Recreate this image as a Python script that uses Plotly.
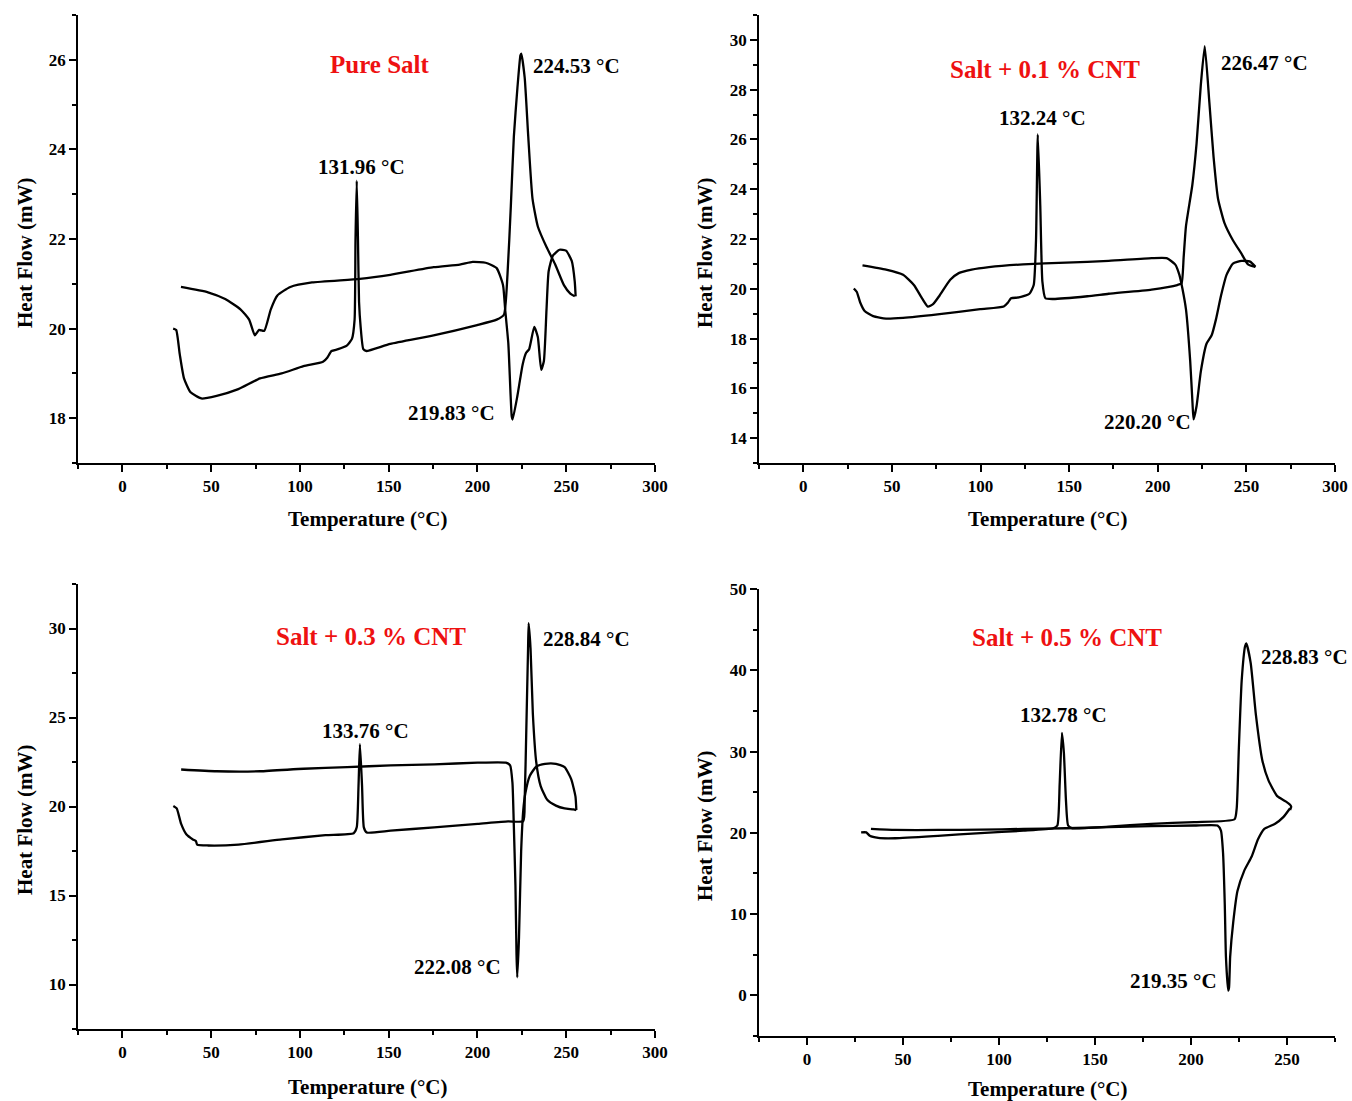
import plotly.graph_objects as go

# ---------------- data (temperature °C, heat flow mW) ----------------
# Panel 1: Pure Salt
pure_heat_t = [28.6, 30.3, 32.3, 34.7, 38.4, 44.5, 53.1, 65.3, 77.5, 89.7, 102, 113, 115.4, 117.8, 121.5, 126.4, 129.3, 130.8, 131.3, 132.0, 132.7, 133.3, 134.2, 135.7, 137.4, 150.9, 175.3, 199.8, 210.8, 214.9, 216.9, 218.8, 220.5, 222.5, 224.2, 224.7, 226.6, 228.6, 231, 234, 238.9, 243.8, 248.7, 252.3, 254.8]
pure_heat_hf = [20.0, 19.97, 19.43, 18.89, 18.58, 18.44, 18.5, 18.65, 18.89, 19.0, 19.16, 19.26, 19.35, 19.5, 19.54, 19.62, 19.77, 20.2, 21.97, 23.3, 21.97, 20.6, 20.04, 19.54, 19.5, 19.66, 19.85, 20.08, 20.2, 20.31, 21.2, 22.74, 24.29, 25.37, 26.1, 26.14, 25.6, 24.29, 22.9, 22.28, 21.82, 21.43, 20.97, 20.78, 20.72]
pure_cool_t = [33.0, 48.2, 57.9, 66.5, 71.4, 74.6, 77.0, 79.9, 83.6, 87.3, 94.6, 106.8, 133.7, 150.9, 175.3, 190, 197.3, 204.6, 210.8, 214.4, 215.6, 217.4, 219.3, 219.8, 222.5, 225.4, 227.4, 229.1, 232.0, 234, 235.9, 237.4, 238.9, 240.1, 242.5, 246.2, 249.9, 253.1, 254.8, 255.3]
pure_cool_hf = [20.93, 20.81, 20.66, 20.43, 20.20, 19.85, 19.97, 19.95, 20.43, 20.74, 20.93, 21.03, 21.11, 21.2, 21.37, 21.43, 21.49, 21.47, 21.35, 20.97, 20.43, 19.66, 18.04, 17.97, 18.5, 19.19, 19.46, 19.54, 20.04, 19.81, 19.08, 19.27, 20.43, 21.28, 21.63, 21.76, 21.74, 21.51, 21.05, 20.72]

# Panel 2: Salt + 0.1 % CNT
c01_heat_t = [28.5, 30.2, 32.1, 34.6, 39.4, 46.7, 56.3, 75.7, 99.8, 113.1, 115.5, 117.2, 121.6, 127.6, 130, 131.3, 132.3, 133.7, 134.9, 136.6, 140.9, 160.3, 172.3, 196.5, 211, 213.4, 214.6, 215.9, 219.5, 221.9, 224.3, 226.5, 229.1, 231.5, 234, 237.6, 242.4, 247.3, 250.9, 255.1]
c01_heat_hf = [20.01, 19.87, 19.45, 19.11, 18.90, 18.8, 18.83, 18.97, 19.18, 19.29, 19.45, 19.62, 19.65, 19.8, 20.15, 21.95, 26.2, 23.34, 20.29, 19.62, 19.59, 19.7, 19.8, 19.97, 20.15, 20.22, 21.26, 22.51, 24.17, 25.84, 28.20, 29.75, 27.50, 25.28, 23.62, 22.65, 21.95, 21.40, 20.98, 20.88]
c01_cool_t = [33.4, 46.7, 56.3, 62.4, 67.2, 70.3, 73.2, 76.9, 82.9, 87.7, 95, 104.7, 124, 148.2, 172.3, 196.5, 205, 209.8, 212.2, 213.9, 215.9, 218.3, 219.6, 220.2, 221.9, 224.3, 227.5, 230.4, 232.8, 235.7, 238.8, 242.4, 247.3, 252.1, 255.1]
c01_cool_hf = [20.94, 20.77, 20.56, 20.15, 19.59, 19.28, 19.38, 19.73, 20.36, 20.63, 20.77, 20.87, 20.98, 21.05, 21.12, 21.23, 21.23, 20.98, 20.56, 20.01, 19.18, 17.09, 15.4, 14.75, 15.29, 16.68, 17.79, 18.13, 18.76, 19.73, 20.56, 21.01, 21.12, 21.09, 20.88]

# Panel 3: Salt + 0.3 % CNT
c03_heat_t = [28.7, 30.6, 33.1, 36, 39.7, 41.4, 42.1, 48.2, 65.4, 89.9, 114.4, 130.3, 132, 133, 133.8, 135, 136, 137.6, 151.1, 175.6, 200.1, 217.2, 225.8, 226.6, 227.5, 228.5, 228.84, 229.9, 231.2, 233.1, 235.6, 239.3, 244.2, 249.1, 254, 255.7]
c03_heat_hf = [20.03, 19.89, 19.02, 18.44, 18.15, 18.06, 17.86, 17.81, 17.86, 18.15, 18.39, 18.5, 18.83, 21.15, 23.5, 21.15, 18.83, 18.54, 18.64, 18.83, 19.02, 19.16, 19.18, 20.38, 24.24, 28.88, 30.3, 28.88, 25.21, 22.5, 21.15, 20.38, 20.05, 19.89, 19.84, 19.8]
c03_cool_t = [33.1, 53.1, 77.6, 102.1, 126.6, 151.1, 175.6, 200.1, 216, 218.4, 219.7, 220.4, 221.4, 222.0, 222.4, 223.4, 224.6, 225.8, 227, 229.5, 233.2, 238.1, 244.2, 249.1, 252.8, 255.2, 255.7]
c03_cool_hf = [22.08, 21.98, 21.98, 22.12, 22.21, 22.31, 22.37, 22.46, 22.46, 22.31, 21.34, 19.22, 15.55, 11.68, 10.4, 12.65, 17.48, 19.8, 20.76, 21.73, 22.25, 22.4, 22.4, 22.21, 21.54, 20.57, 19.8]

# Panel 4: Salt + 0.5 % CNT
c05_heat_t = [28.2, 30.9, 32.7, 37.1, 46, 68.2, 90.4, 112.7, 128.2, 130.4, 131.6, 132.78, 133.8, 134.9, 136, 138.2, 157.1, 179.3, 201.6, 222.7, 223.8, 224.9, 226.4, 228.2, 228.83, 231.1, 233.8, 237.1, 240.4, 244.9, 249.3, 251.6, 252.2, 251.6]
c05_heat_hf = [20.05, 20.05, 19.63, 19.37, 19.33, 19.63, 19.97, 20.26, 20.56, 20.9, 26.0, 32.3, 29.82, 23.87, 20.9, 20.56, 20.77, 21.11, 21.32, 21.67, 23.02, 30.25, 38.74, 42.99, 43.3, 40.87, 34.5, 28.97, 26.42, 24.51, 23.87, 23.45, 23.2, 22.8]
c05_cool_t = [33.3, 46, 68.2, 90.4, 112.7, 134.9, 157.1, 179.3, 201.6, 213.8, 215.6, 216.7, 217.6, 218.2, 219.35, 219.8, 220.4, 222, 224.2, 227.8, 231.6, 234.9, 238.2, 243.8, 248.2, 251.6]
c05_cool_hf = [20.48, 20.35, 20.35, 20.39, 20.48, 20.56, 20.69, 20.82, 20.9, 20.9, 20.26, 17.5, 11.13, 4.76, 0.6, 0.93, 4.76, 9.0, 12.83, 15.38, 17.08, 19.2, 20.48, 21.11, 21.96, 23.02]

titles = ["Pure Salt", "Salt + 0.1 % CNT", "Salt + 0.3 % CNT", "Salt + 0.5 % CNT"]
peak_labels = [["224.53 °C", "131.96 °C", "219.83 °C"],
               ["226.47 °C", "132.24 °C", "220.20 °C"],
               ["228.84 °C", "133.76 °C", "222.08 °C"],
               ["228.83 °C", "132.78 °C", "219.35 °C"]]
x_ranges = [[-25, 300], [-25, 300], [-25, 300], [-25, 275]]
y_ranges = [[17, 27], [13, 31], [7.5, 32.5], [-5, 50]]
y_dticks = [2, 2, 5, 10]
x_title = "Temperature (°C)"
y_title = "Heat Flow (mW)"

# ---------------- layout geometry (screen pixels; body margin removed) ----------------
W, H = 1352, 1101
def px(x):
    return x / W
def py(y):
    return 1 - y / H

boxes = [(78, 655, 15, 463), (759, 1335, 15, 463), (78, 655, 584, 1029), (759, 1335, 589, 1036)]

series = [
    (pure_heat_t, pure_heat_hf, pure_cool_t, pure_cool_hf),
    (c01_heat_t, c01_heat_hf, c01_cool_t, c01_cool_hf),
    (c03_heat_t, c03_heat_hf, c03_cool_t, c03_cool_hf),
    (c05_heat_t, c05_heat_hf, c05_cool_t, c05_cool_hf),
]

FONT = "Liberation Serif"
fig = go.Figure()
layout = dict(width=W, height=H, margin=dict(l=0, r=0, t=0, b=0),
              paper_bgcolor="white", plot_bgcolor="white", showlegend=False)

for i, (ht, hh, ct, ch) in enumerate(series):
    n = "" if i == 0 else str(i + 1)
    xa, ya = "x" + n, "y" + n
    for t, h in ((ht, hh), (ct, ch)):
        fig.add_trace(go.Scatter(x=t, y=h, mode="lines", xaxis=xa, yaxis=ya,
                                 line=dict(color="black", width=2.3, shape="spline", smoothing=0.5)))
    x0, x1, y0, y1 = boxes[i]
    common = dict(showline=True, linecolor="black", linewidth=1.6, showgrid=False,
                  zeroline=False, ticks="outside", ticklen=7, tickwidth=1.6,
                  tickcolor="black", automargin=False, ticklabeloverflow="allow",
                  tickfont=dict(family=FONT, size=17, color="black", weight="bold"))
    layout["xaxis" + n] = dict(common, domain=[px(x0), px(x1)], range=x_ranges[i],
                               anchor=ya, tick0=0, dtick=50,
                               minor=dict(dtick=25, tick0=0, ticks="outside", ticklen=4,
                                          tickwidth=1.6, tickcolor="black"))
    layout["yaxis" + n] = dict(common, domain=[py(y1), py(y0)], range=y_ranges[i],
                               anchor=xa, tick0=0, dtick=y_dticks[i],
                               minor=dict(dtick=y_dticks[i] / 2, tick0=0, ticks="outside",
                                          ticklen=4, tickwidth=1.6, tickcolor="black"))

fig.update_layout(**layout)

def ann(text, x, y, size, color="black", xanchor="center", angle=0):
    fig.add_annotation(text=text, x=px(x), y=py(y), xref="paper", yref="paper",
                       showarrow=False, xanchor=xanchor, yanchor="middle", textangle=angle,
                       font=dict(family=FONT, size=size, color=color, weight="bold"))

# axis titles
for (xc, yt) in [(367, 519), (1047, 519), (367, 1087), (1047, 1089)]:
    ann(x_title, xc, yt, 21)
for (xc, yc) in [(25, 253), (705, 253), (25, 820), (705, 826)]:
    ann(y_title, xc, yc, 21, angle=-90)

# panel titles (red)
for (xc, yc), t in zip([(380, 65), (1045, 69), (371, 636), (1067, 637)], titles):
    ann(t, xc, yc, 25, color="#ee1111")

# peak labels
peak_pos = [
    [(531, 66, "left"), (361, 167, "center"), (497, 413, "right")],
    [(1219, 63, "left"), (1042, 118, "center"), (1193, 422, "right")],
    [(541, 639, "left"), (365, 731, "center"), (503, 967, "right")],
    [(1350, 657, "right"), (1063, 715, "center"), (1219, 981, "right")],
]
for labels, poss in zip(peak_labels, peak_pos):
    for lab, (x, y, anc) in zip(labels, poss):
        ann(lab, x, y, 21, xanchor=anc)

fig.write_html("out.html", config={"displayModeBar": False},
               post_script="document.body.style.margin='0';document.body.style.overflow='hidden';")
